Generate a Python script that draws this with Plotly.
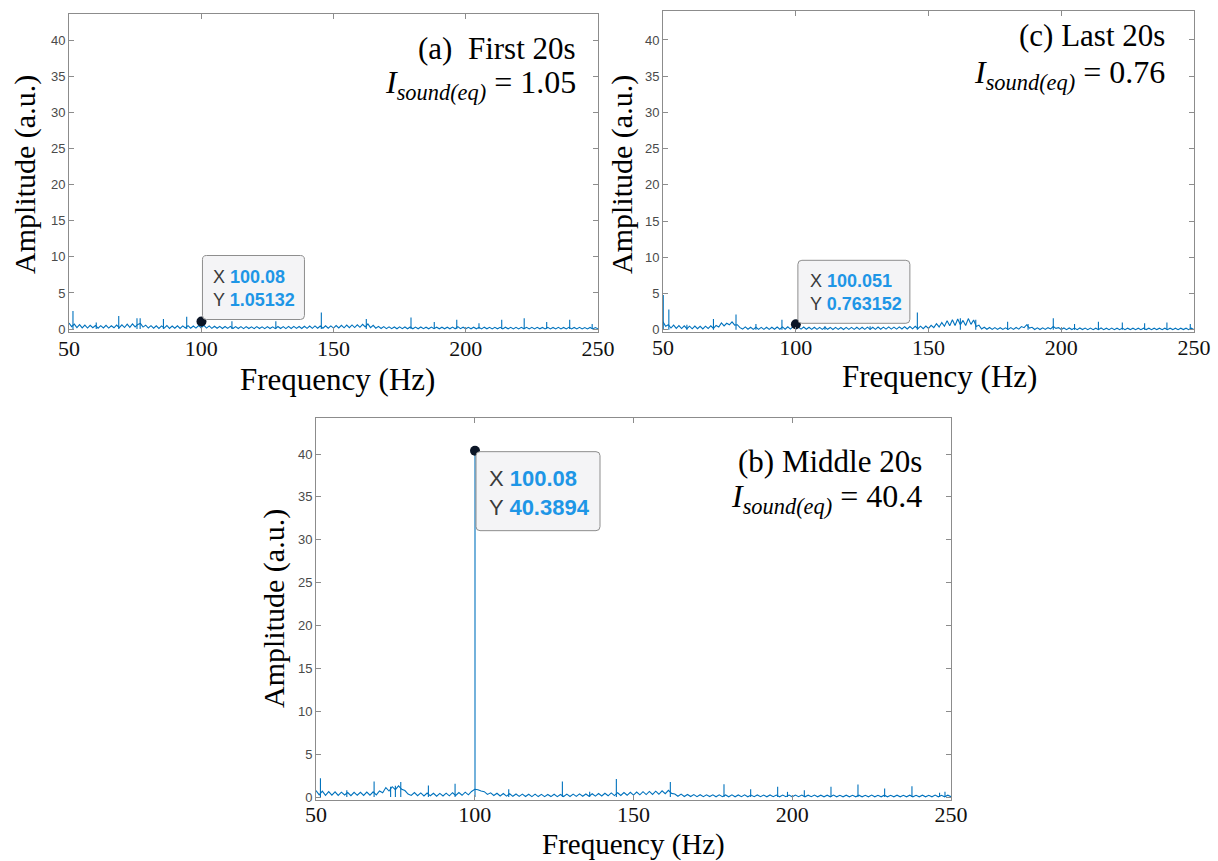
import plotly.graph_objects as go

# ---------------- data ----------------
FREQ_HZ = [
    50, 51, 52, 53, 54, 55, 56, 57, 58, 59,
    60, 61, 62, 63, 64, 65, 66, 67, 68, 69,
    70, 71, 72, 73, 74, 75, 76, 77, 78, 79,
    80, 81, 82, 83, 84, 85, 86, 87, 88, 89,
    90, 91, 92, 93, 94, 95, 96, 97, 98, 99,
    100, 101, 102, 103, 104, 105, 106, 107, 108, 109,
    110, 111, 112, 113, 114, 115, 116, 117, 118, 119,
    120, 121, 122, 123, 124, 125, 126, 127, 128, 129,
    130, 131, 132, 133, 134, 135, 136, 137, 138, 139,
    140, 141, 142, 143, 144, 145, 146, 147, 148, 149,
    150, 151, 152, 153, 154, 155, 156, 157, 158, 159,
    160, 161, 162, 163, 164, 165, 166, 167, 168, 169,
    170, 171, 172, 173, 174, 175, 176, 177, 178, 179,
    180, 181, 182, 183, 184, 185, 186, 187, 188, 189,
    190, 191, 192, 193, 194, 195, 196, 197, 198, 199,
    200, 201, 202, 203, 204, 205, 206, 207, 208, 209,
    210, 211, 212, 213, 214, 215, 216, 217, 218, 219,
    220, 221, 222, 223, 224, 225, 226, 227, 228, 229,
    230, 231, 232, 233, 234, 235, 236, 237, 238, 239,
    240, 241, 242, 243, 244, 245, 246, 247, 248, 249,
    250,
]

# noise floor, panel (a) First 20s
FLOOR_A = [
    0.85, 0.35, 0.70, 0.20, 0.62, 0.18, 0.55, 0.15, 0.52, 0.20,
    0.50, 0.12, 0.48, 0.16, 0.52, 0.14, 0.46, 0.18, 0.55, 0.20,
    0.60, 0.22, 0.68, 0.25, 0.72, 0.30, 0.65, 0.78, 0.28, 0.55,
    0.15, 0.48, 0.12, 0.45, 0.10, 0.44, 0.14, 0.50, 0.10, 0.42,
    0.12, 0.46, 0.10, 0.44, 0.16, 0.48, 0.12, 0.42, 0.14, 0.50,
    0.20, 0.52, 0.14, 0.44, 0.10, 0.40, 0.12, 0.38, 0.08, 0.36,
    0.10, 0.38, 0.08, 0.35, 0.09, 0.34, 0.07, 0.35, 0.08, 0.32,
    0.07, 0.34, 0.08, 0.31, 0.06, 0.35, 0.08, 0.32, 0.07, 0.36,
    0.08, 0.35, 0.07, 0.37, 0.09, 0.38, 0.10, 0.36, 0.08, 0.40,
    0.10, 0.42, 0.11, 0.44, 0.12, 0.43, 0.12, 0.46, 0.13, 0.45,
    0.14, 0.50, 0.16, 0.52, 0.18, 0.55, 0.20, 0.58, 0.22, 0.60,
    0.25, 0.66, 0.30, 0.72, 0.20, 0.52, 0.12, 0.38, 0.08, 0.34,
    0.06, 0.32, 0.06, 0.30, 0.05, 0.31, 0.06, 0.29, 0.05, 0.30,
    0.05, 0.28, 0.05, 0.29, 0.06, 0.27, 0.04, 0.28, 0.06, 0.26,
    0.04, 0.27, 0.05, 0.26, 0.04, 0.28, 0.05, 0.34, 0.06, 0.26,
    0.04, 0.25, 0.04, 0.26, 0.04, 0.25, 0.03, 0.27, 0.04, 0.24,
    0.03, 0.25, 0.04, 0.24, 0.03, 0.26, 0.04, 0.24, 0.03, 0.25,
    0.03, 0.24, 0.04, 0.25, 0.03, 0.24, 0.03, 0.25, 0.04, 0.23,
    0.03, 0.24, 0.03, 0.23, 0.03, 0.25, 0.03, 0.23, 0.03, 0.24,
    0.03, 0.23, 0.03, 0.24, 0.03, 0.22, 0.03, 0.23, 0.03, 0.22,
    0.05,
]

# noise floor, panel (b) Middle 20s
FLOOR_B = [
    0.75, 0.25, 0.68, 0.20, 0.62, 0.22, 0.60, 0.18, 0.56, 0.24,
    0.52, 0.16, 0.55, 0.20, 0.54, 0.18, 0.58, 0.22, 0.60, 0.25,
    0.70, 0.50, 1.10, 0.70, 1.20, 0.85, 1.30, 0.90, 0.75, 0.35,
    0.18, 0.52, 0.15, 0.48, 0.12, 0.46, 0.14, 0.44, 0.10, 0.42,
    0.12, 0.45, 0.14, 0.50, 0.18, 0.52, 0.20, 0.56, 0.25, 0.65,
    0.90, 0.85, 0.70, 0.62, 0.30, 0.48, 0.18, 0.44, 0.12, 0.40,
    0.10, 0.38, 0.08, 0.35, 0.07, 0.34, 0.06, 0.32, 0.05, 0.33,
    0.05, 0.31, 0.04, 0.30, 0.05, 0.32, 0.04, 0.30, 0.06, 0.33,
    0.06, 0.34, 0.07, 0.36, 0.08, 0.35, 0.09, 0.38, 0.10, 0.40,
    0.12, 0.44, 0.14, 0.48, 0.16, 0.50, 0.18, 0.52, 0.20, 0.55,
    0.22, 0.58, 0.25, 0.62, 0.28, 0.65, 0.30, 0.68, 0.32, 0.72,
    0.38, 0.78, 0.42, 0.35, 0.08, 0.34, 0.06, 0.30, 0.05, 0.28,
    0.04, 0.27, 0.04, 0.26, 0.05, 0.25, 0.03, 0.26, 0.04, 0.24,
    0.03, 0.25, 0.03, 0.24, 0.04, 0.26, 0.03, 0.23, 0.04, 0.24,
    0.03, 0.23, 0.02, 0.24, 0.03, 0.22, 0.02, 0.23, 0.03, 0.22,
    0.02, 0.22, 0.03, 0.23, 0.02, 0.21, 0.03, 0.22, 0.02, 0.21,
    0.02, 0.21, 0.02, 0.22, 0.02, 0.20, 0.02, 0.21, 0.02, 0.20,
    0.02, 0.21, 0.02, 0.20, 0.02, 0.22, 0.02, 0.20, 0.02, 0.21,
    0.02, 0.20, 0.02, 0.21, 0.02, 0.20, 0.02, 0.21, 0.02, 0.20,
    0.02, 0.21, 0.02, 0.20, 0.02, 0.22, 0.02, 0.20, 0.02, 0.21,
    0.04,
]

# noise floor, panel (c) Last 20s
FLOOR_C = [
    1.10, 0.50, 0.70, 0.25, 0.65, 0.20, 0.58, 0.18, 0.55, 0.16,
    0.50, 0.14, 0.52, 0.16, 0.48, 0.12, 0.50, 0.18, 0.55, 0.20,
    0.60, 0.40, 0.95, 0.55, 0.90, 0.70, 1.10, 0.65, 0.70, 0.30,
    0.10, 0.40, 0.08, 0.36, 0.07, 0.35, 0.06, 0.34, 0.07, 0.36,
    0.06, 0.35, 0.08, 0.38, 0.09, 0.40, 0.08, 0.42, 0.10, 0.45,
    0.15, 0.38, 0.10, 0.38, 0.08, 0.36, 0.07, 0.35, 0.06, 0.34,
    0.06, 0.35, 0.07, 0.33, 0.05, 0.34, 0.06, 0.32, 0.05, 0.33,
    0.06, 0.34, 0.07, 0.36, 0.06, 0.35, 0.07, 0.37, 0.06, 0.36,
    0.07, 0.38, 0.08, 0.37, 0.09, 0.40, 0.10, 0.38, 0.10, 0.41,
    0.11, 0.43, 0.12, 0.45, 0.13, 0.48, 0.15, 0.50, 0.16, 0.52,
    0.20, 0.62, 0.30, 0.85, 0.40, 1.00, 0.50, 1.25, 0.55, 1.40,
    0.60, 1.50, 0.70, 1.30, 0.60, 1.55, 0.75, 1.35, 0.45, 0.65,
    0.12, 0.35, 0.08, 0.32, 0.06, 0.30, 0.05, 0.29, 0.05, 0.28,
    0.05, 0.30, 0.06, 0.32, 0.10, 0.45, 0.30, 0.70, 0.25, 0.35,
    0.05, 0.28, 0.04, 0.27, 0.05, 0.30, 0.12, 0.45, 0.20, 0.30,
    0.04, 0.26, 0.03, 0.25, 0.04, 0.24, 0.03, 0.25, 0.04, 0.24,
    0.03, 0.24, 0.03, 0.23, 0.03, 0.25, 0.03, 0.23, 0.03, 0.24,
    0.02, 0.23, 0.03, 0.24, 0.02, 0.22, 0.03, 0.23, 0.02, 0.22,
    0.02, 0.23, 0.03, 0.22, 0.02, 0.23, 0.03, 0.22, 0.02, 0.23,
    0.02, 0.22, 0.03, 0.23, 0.02, 0.22, 0.03, 0.22, 0.02, 0.22,
    0.04,
]

# narrow spectral lines (frequency, amplitude)
SPIKE_F_A = [51.5, 60.3, 68.8, 75.7, 76.9, 85.7, 94.5, 100.08, 111.6, 128.2, 145.4,
             162.4, 179.3, 188.1, 196.6, 205.0, 213.6, 222.1, 230.6, 239.3, 247.8]
SPIKE_Y_A = [2.5, 0.9, 1.8, 1.5, 1.5, 1.4, 1.7, 1.05132, 1.1, 1.1, 2.3,
             1.4, 1.6, 1.0, 1.3, 0.8, 1.3, 1.5, 1.0, 1.3, 0.7]

SPIKE_F_B = [51.4, 59.7, 68.3, 73.5, 75.0, 76.7, 85.4, 93.8, 100.08, 110.7, 127.6, 136.2,
             144.6, 161.6, 178.5, 186.9, 195.4, 198.5, 203.8, 212.2, 220.7, 229.1,
             237.7, 246.4, 248.1]
SPIKE_Y_B = [2.2, 0.8, 1.8, 1.2, 1.3, 1.75, 1.35, 1.55, 40.3894, 0.9, 1.8, 0.6,
             2.1, 1.75, 1.5, 0.9, 1.2, 0.6, 0.8, 1.2, 1.45, 1.0,
             1.25, 0.5, 0.6]

SPIKE_F_C = [50.1, 52.2, 59.0, 69.0, 77.5, 85.0, 94.8, 100.051, 111.0, 128.0, 145.8,
             162.0, 167.8, 179.8, 187.5, 197.0, 205.0, 214.0, 223.0, 231.4, 239.8, 248.6]
SPIKE_Y_C = [4.8, 2.8, 0.7, 1.5, 2.1, 0.8, 1.4, 0.763152, 0.5, 0.5, 2.4,
             1.6, 1.4, 1.1, 0.8, 1.6, 0.8, 1.1, 1.0, 0.9, 1.0, 0.8]

# data tips
TIP_X = {"a": 100.08, "b": 100.08, "c": 100.051}
TIP_Y = {"a": 1.05132, "b": 40.3894, "c": 0.763152}
TIP_X_TXT = {"a": "100.08", "b": "100.08", "c": "100.051"}
TIP_Y_TXT = {"a": "1.05132", "b": "40.3894", "c": "0.763152"}

PANEL_TITLE = {"a": "(a)  First 20s", "b": "(b) Middle 20s", "c": "(c) Last 20s"}
PANEL_IEQ = {"a": "1.05", "b": "40.4", "c": "0.76"}

X_TICKS = [50, 100, 150, 200, 250]
Y_TICKS = [0, 5, 10, 15, 20, 25, 30, 35, 40]

# ---------------- figure ----------------
W, H = 1218, 861
LINE = "#0072BD"
SERIF = "Liberation Serif, Times New Roman, serif"
SANS = "Liberation Sans, Arial, Helvetica, sans-serif"
TIP_BLUE = "#1e96e6"

# pixel boxes of the three axes: (left, right, top, bottom)
BOX = {"a": (69, 598, 14, 332), "c": (663, 1194, 11, 332), "b": (316, 951, 418, 800)}
YR = {"a": [-0.4, 43.6], "c": [-0.3, 44.0], "b": [-0.35, 44.2]}
AX = {"a": ("x", "y", "xaxis", "yaxis"), "b": ("x2", "y2", "xaxis2", "yaxis2"),
      "c": ("x3", "y3", "xaxis3", "yaxis3")}
FLOORS = {"a": FLOOR_A, "b": FLOOR_B, "c": FLOOR_C}
SPIKES = {"a": (SPIKE_F_A, SPIKE_Y_A), "b": (SPIKE_F_B, SPIKE_Y_B), "c": (SPIKE_F_C, SPIKE_Y_C)}
XLABEL_STANDOFF = {"a": -3, "b": -5, "c": -4}

# data-tip box geometry in pixels relative to the tip point (x right, y up)
TIP_BOX = {"a": (1, 103, 2, 66), "c": (2, 114, 1, 64), "b": (1, 125, -80, -1)}
TIP_FONT = {"a": 18, "c": 18, "b": 22}
TIP_TEXT_OFF = {"a": (9, -9), "c": (10, -9), "b": (11, -12)}


def rounded_rect(x0, x1, y0, y1, r=4):
    return (f"M{x0 + r},{y0} L{x1 - r},{y0} Q{x1},{y0} {x1},{y0 + r} "
            f"L{x1},{y1 - r} Q{x1},{y1} {x1 - r},{y1} L{x0 + r},{y1} "
            f"Q{x0},{y1} {x0},{y1 - r} L{x0},{y0 + r} Q{x0},{y0} {x0 + r},{y0} Z")


fig = go.Figure()
layout = dict(width=W, height=H, autosize=False, margin=dict(l=0, r=0, t=0, b=0, pad=0),
              paper_bgcolor="white", plot_bgcolor="white", showlegend=False)

annotations = []
shapes = []
for key in ["a", "b", "c"]:
    xr, yr, xname, yname = AX[key]
    l, r, t, b = BOX[key]
    layout[xname] = dict(domain=[l / W, r / W], range=[50, 250], anchor=yr, automargin=False,
                         tickvals=X_TICKS, ticktext=[str(v) for v in X_TICKS],
                         ticks="inside", ticklen=5, tickcolor="#8c8c8c",
                         ticklabelstandoff=XLABEL_STANDOFF[key],
                         showline=True, linecolor="#8c8c8c", linewidth=1, mirror="allticks",
                         showgrid=False, zeroline=False,
                         tickfont=dict(family=SERIF, size=22, color="#111111"))
    layout[yname] = dict(domain=[1 - b / H, 1 - t / H], range=YR[key], anchor=xr, automargin=False,
                         tickvals=Y_TICKS, ticks="inside", ticklen=5, tickcolor="#8c8c8c",
                         showline=True, linecolor="#8c8c8c", linewidth=1, mirror="allticks",
                         showgrid=False, zeroline=False,
                         tickfont=dict(family=SANS, size=13, color="#4a4a4a"))

    # noise floor
    fig.add_trace(go.Scatter(x=FREQ_HZ, y=FLOORS[key], mode="lines", xaxis=xr, yaxis=yr,
                             line=dict(color=LINE, width=1.1), hoverinfo="skip"))
    # spectral lines as stems
    sx, sy = [], []
    for f, a in zip(*SPIKES[key]):
        sx += [f, f, None]
        sy += [0, a, None]
    fig.add_trace(go.Scatter(x=sx, y=sy, mode="lines", xaxis=xr, yaxis=yr,
                             line=dict(color=LINE, width=1.1), hoverinfo="skip"))
    # data tip marker
    fig.add_trace(go.Scatter(x=[TIP_X[key]], y=[TIP_Y[key]], mode="markers", xaxis=xr, yaxis=yr,
                             marker=dict(color="#0b1526", size=10), hoverinfo="skip",
                             cliponaxis=False))

    xd = xr + " domain"
    yd = yr + " domain"
    # panel title
    ty = {"a": (0.893, 0.777), "b": (0.885, 0.790), "c": (0.925, 0.801)}[key]
    txr = {"a": 0.962, "b": 0.958, "c": 0.949}[key]
    annotations.append(dict(xref=xd, yref=yd, x=txr, y=ty[0], xanchor="right", yanchor="middle",
                            text=PANEL_TITLE[key], showarrow=False,
                            font=dict(family=SERIF, size=31, color="black")))
    annotations.append(dict(xref=xd, yref=yd, x=txr, y=ty[1], xanchor="right", yanchor="middle",
                            text="<i>I</i><sub><i>sound(eq)</i></sub> = " + PANEL_IEQ[key],
                            showarrow=False, font=dict(family=SERIF, size=32, color="black")))

    # data tip box (rounded) + text
    bx0, bx1, by0, by1 = TIP_BOX[key]
    shapes.append(dict(type="path", xref=xr, yref=yr, xsizemode="pixel", ysizemode="pixel",
                       xanchor=TIP_X[key], yanchor=TIP_Y[key],
                       path=rounded_rect(bx0, bx1, by0, by1),
                       fillcolor="#f4f4f6", line=dict(color="#8e8e8e", width=1), layer="above"))
    tip_text = ("X <b><span style='color:%s'>%s</span></b><br>"
                "Y <b><span style='color:%s'>%s</span></b>") % (TIP_BLUE, TIP_X_TXT[key],
                                                                 TIP_BLUE, TIP_Y_TXT[key])
    ox, oy = TIP_TEXT_OFF[key]
    annotations.append(dict(xref=xr, yref=yr, x=TIP_X[key], y=TIP_Y[key],
                            xshift=bx0 + ox, yshift=by1 + oy,
                            xanchor="left", yanchor="top", align="left",
                            text=tip_text, showarrow=False,
                            font=dict(family=SANS, size=TIP_FONT[key], color="#3a3a3a")))

# axis titles (pixel positions converted to paper)
XT = {"a": (337, 380), "c": (940, 377), "b": (633, 844)}
XT_SIZE = {"a": 31, "c": 31, "b": 29}
YT = {"a": (25, 175), "c": (622, 175), "b": (274, 609)}
for key in ["a", "b", "c"]:
    annotations.append(dict(xref="paper", yref="paper", x=XT[key][0] / W, y=1 - XT[key][1] / H,
                            xanchor="center", yanchor="middle", text="Frequency (Hz)",
                            showarrow=False, font=dict(family=SERIF, size=XT_SIZE[key], color="black")))
    annotations.append(dict(xref="paper", yref="paper", x=YT[key][0] / W, y=1 - YT[key][1] / H,
                            xanchor="center", yanchor="middle", text="Amplitude (a.u.)",
                            textangle=-90, showarrow=False,
                            font=dict(family=SERIF, size=30, color="black")))

layout["annotations"] = annotations
layout["shapes"] = shapes
fig.update_layout(**layout)
fig.write_html("out.html")
